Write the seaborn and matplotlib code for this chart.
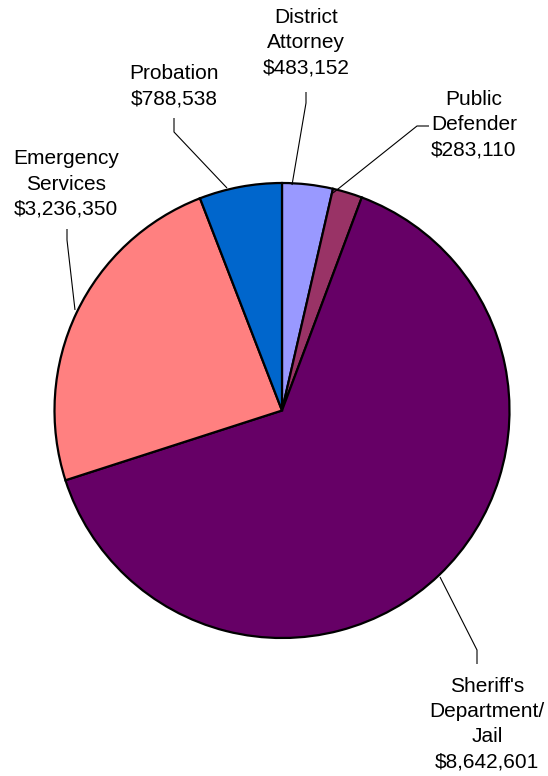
import numpy as np
import matplotlib
matplotlib.use("Agg")
import matplotlib.pyplot as plt
import seaborn as sns

# Data
categories = ["District\nAttorney", "Public\nDefender", "Sheriff's\nDepartment/\nJail",
              "Emergency\nServices", "Probation"]
values = [483152, 283110, 8642601, 3236350, 788538]
colors = ["#9999FF", "#993366", "#660066", "#FF8080", "#0066CC"]

sns.set_theme(style="white")
plt.rcParams['font.family'] = ['Liberation Sans', 'DejaVu Sans']

W, H = 548, 776
fig = plt.figure(figsize=(W / 100, H / 100), dpi=100)
ax = fig.add_axes([0, 0, 1, 1])
ax.set_xlim(0, W)
ax.set_ylim(0, H)
ax.set_aspect("equal")
ax.axis("off")

cx, cy, r = 282, H - 410.5, 227.5
ax.pie(values, colors=colors, startangle=90, counterclock=False,
       center=(cx, cy), radius=r,
       wedgeprops=dict(edgecolor="black", linewidth=1.6))
ax.set_xlim(0, W)
ax.set_ylim(0, H)

def fmt(v):
    return "${:,}".format(v)

# label layout: (text x, text y center in px from top), leader polyline in px from top
layout = [
    ((306, 43), [(306, 92), (306, 103), (292, 185)]),
    ((474, 125), [(429, 126), (417, 126), (333, 193)]),
    ((487, 724), [(477, 664), (477, 650), (440, 577)]),
    ((66, 184), [(67, 229), (67, 240), (75, 310)]),
    ((174, 86), [(174, 118), (174, 132), (227, 188)]),
]

for cat, v, ((tx, ty), pts) in zip(categories, values, layout):
    ax.text(tx, H - ty, cat + "\n" + fmt(v), ha="center", va="center",
            fontsize=15, linespacing=1.41, color="black")
    xs = [p[0] for p in pts]
    ys = [H - p[1] for p in pts]
    ax.plot(xs, ys, color="black", linewidth=0.8, solid_capstyle="butt")

fig.savefig("out.png", dpi=100, facecolor="white")
